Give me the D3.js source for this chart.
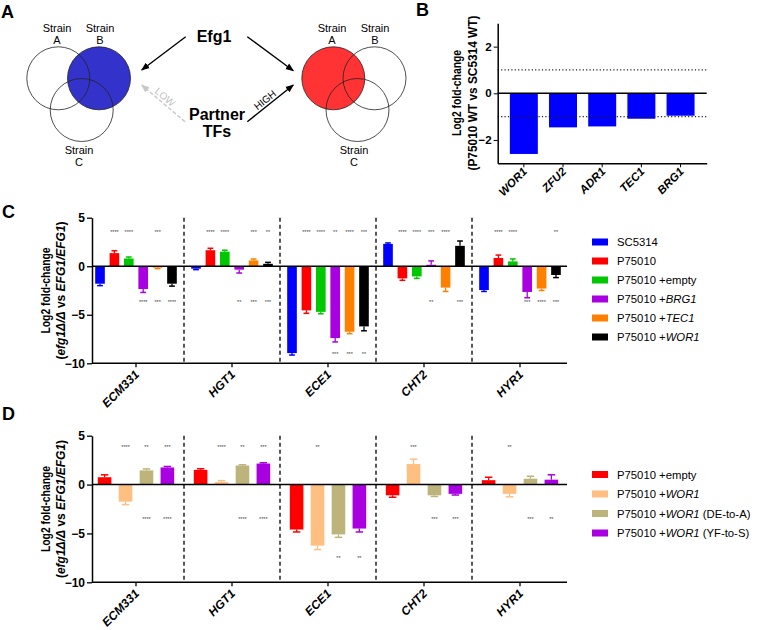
<!DOCTYPE html>
<html><head><meta charset="utf-8">
<script src="https://cdn.jsdelivr.net/npm/d3@7"></script>
<style>body{margin:0;background:#fff}svg{font-family:"Liberation Sans",Arial,sans-serif}</style>
</head><body><svg id="c" width="760" height="630"></svg>
<script>
// ---------- DATA ----------
const bGenes = ["WOR1", "ZFU2", "ADR1", "TEC1", "BRG1"];
const bValues = [-2.6, -1.46, -1.42, -1.09, -0.96];
const bTicks = [-2, 0, 2];

const genes = ["ECM331", "HGT1", "ECE1", "CHT2", "HYR1"];
const yTicksCD = [-10, -5, 0, 5];

const cSeries = ["SC5314", "P75010", "P75010 +empty", "P75010 +BRG1", "P75010 +TEC1", "P75010 +WOR1"];
const cLegend = [["SC5314", "", ""], ["P75010", "", ""], ["P75010 +empty", "", ""], ["P75010 +", "BRG1", ""], ["P75010 +", "TEC1", ""], ["P75010 +", "WOR1", ""]];
const cColors = ["#0000ff", "#ff0000", "#00c800", "#a800e0", "#ff8000", "#000000"];
// means per series, in gene order
const cMeans = [
  [-1.8, -0.25, -8.95, 2.3, -2.45],
  [1.35, 1.65, -4.55, -1.25, 0.85],
  [0.8, 1.5, -4.7, -1.05, 0.5],
  [-2.35, -0.35, -7.4, 0.15, -2.65],
  [-0.15, 0.6, -6.75, -2.2, -2.3],
  [-1.8, 0.25, -6.2, 2.1, -0.9]
];
const cErrors = [
  [0.2, 0.1, 0.2, 0.1, 0.15],
  [0.25, 0.2, 0.3, 0.2, 0.3],
  [0.15, 0.15, 0.2, 0.2, 0.25],
  [0.35, 0.35, 0.4, 0.4, 0.6],
  [0.1, 0.15, 0.2, 0.4, 0.2],
  [0.25, 0.15, 0.45, 0.5, 0.27]
];
// significance marks: [gene index, series index, mark, row level]
const cStars = [
  [0,1,"****",3.6],[0,2,"****",3.6],[0,4,"***",3.6],
  [0,3,"****",-3.6],[0,4,"***",-3.6],[0,5,"****",-3.6],
  [1,1,"****",3.6],[1,2,"****",3.6],[1,4,"***",3.6],[1,5,"**",3.6],
  [1,3,"**",-3.6],[1,4,"***",-3.6],[1,5,"***",-3.6],
  [2,1,"****",3.6],[2,2,"****",3.6],[2,3,"**",3.6],[2,4,"****",3.6],[2,5,"***",3.6],
  [2,3,"***",-8.9],[2,4,"***",-8.9],[2,5,"**",-8.9],
  [3,1,"****",3.6],[3,2,"****",3.6],[3,3,"***",3.6],[3,4,"****",3.6],
  [3,3,"**",-3.6],[3,5,"***",-3.6],
  [4,1,"****",3.6],[4,2,"****",3.6],[4,5,"**",3.6],
  [4,3,"***",-3.6],[4,4,"****",-3.6],[4,5,"***",-3.6]
];

const dSeries = ["P75010 +empty", "P75010 +WOR1", "P75010 +WOR1 (DE-to-A)", "P75010 +WOR1 (YF-to-S)"];
const dLegend = [["P75010 +empty", "", ""], ["P75010 +", "WOR1", ""], ["P75010 +", "WOR1", " (DE-to-A)"], ["P75010 +", "WOR1", " (YF-to-S)"]];
const dColors = ["#ff0000", "#ffbf80", "#bdb47b", "#a800e0"];
const dMeans = [
  [0.75, 1.5, -4.6, -1.1, 0.45],
  [-1.75, 0.25, -6.25, 2.1, -0.95],
  [1.45, 1.95, -5.1, -1.1, 0.6],
  [1.75, 2.15, -4.5, -0.95, 0.5]
];
const dErrors = [
  [0.25, 0.12, 0.25, 0.2, 0.3],
  [0.3, 0.15, 0.4, 0.5, 0.3],
  [0.15, 0.08, 0.3, 0.12, 0.25],
  [0.1, 0.08, 0.35, 0.12, 0.5]
];
const dStars = [
  [0,1,"****",4.0],[0,2,"**",4.0],[0,3,"***",4.0],
  [0,2,"****",-3.35],[0,3,"****",-3.35],
  [1,1,"****",4.0],[1,2,"**",4.0],[1,3,"***",4.0],
  [1,2,"****",-3.35],[1,3,"****",-3.35],
  [2,1,"**",4.0],
  [2,2,"**",-7.4],[2,3,"**",-7.4],
  [3,1,"***",4.0],
  [3,2,"***",-3.35],[3,3,"***",-3.35],
  [4,1,"**",4.0],
  [4,2,"***",-3.35],[4,3,"**",-3.35]
];

// ---------- DRAW ----------
const svg = d3.select("#c");

// panel letters
[["A", 1, 18], ["B", 416, 16], ["C", 2, 218], ["D", 2, 420]].forEach(([t, x, y]) =>
  svg.append("text").attr("x", x).attr("y", y).attr("font-size", 18).attr("font-weight", "bold").text(t));

// ---- Panel A (schematic) ----
const defs = svg.append("defs");
function marker(id, color) {
  defs.append("marker").attr("id", id).attr("viewBox", "0 0 10 10").attr("refX", 9).attr("refY", 5)
    .attr("markerWidth", 6).attr("markerHeight", 6).attr("orient", "auto")
    .append("path").attr("d", "M0,1 L10,5 L0,9 Z").attr("fill", color);
}
marker("arrB", "#000"); marker("arrG", "#c8c8c8");
const A = svg.append("g");
const circ = (cx, cy, fill) => A.append("circle").attr("cx", cx).attr("cy", cy).attr("r", 31.5)
  .attr("fill", fill).attr("stroke", "#222").attr("stroke-width", 0.8);
circ(99, 78.3, "#3333cc");
circ(58.3, 78.3, "none"); circ(81.7, 110, "none");
circ(333.3, 78.3, "#ff3333");
circ(374.5, 78.3, "none"); circ(357.5, 110, "none");
function strain(x, y, letter) {
  A.append("text").attr("x", x).attr("y", y).attr("text-anchor", "middle").attr("font-size", 11).text("Strain");
  A.append("text").attr("x", x).attr("y", y + 12).attr("text-anchor", "middle").attr("font-size", 11).text(letter);
}
strain(57, 31.5, "A"); strain(100, 31.5, "B"); strain(79, 153.5, "C");
strain(332, 31.5, "A"); strain(375, 31.5, "B"); strain(354, 153.5, "C");
A.append("text").attr("x", 214).attr("y", 42).attr("text-anchor", "middle").attr("font-size", 16).attr("font-weight", "bold").text("Efg1");
A.append("text").attr("x", 217).attr("y", 119.5).attr("text-anchor", "middle").attr("font-size", 16).attr("font-weight", "bold").text("Partner");
A.append("text").attr("x", 217).attr("y", 136.5).attr("text-anchor", "middle").attr("font-size", 16).attr("font-weight", "bold").text("TFs");
const arrow = (x1, y1, x2, y2, col, mk, dash) => A.append("line").attr("x1", x1).attr("y1", y1).attr("x2", x2).attr("y2", y2)
  .attr("stroke", col).attr("stroke-width", 1.4).attr("stroke-dasharray", dash).attr("marker-end", `url(#${mk})`);
arrow(185.7, 36.7, 141.7, 70, "#000", "arrB", null);
arrow(247.3, 36.7, 293.3, 70.7, "#000", "arrB", null);
arrow(185, 121.7, 141.7, 85, "#c8c8c8", "arrG", "4,2");
arrow(247.3, 121.7, 293.3, 85, "#000", "arrB", null);
A.append("text").attr("transform", "translate(165,97) rotate(40)").attr("text-anchor", "middle").attr("dy", "0.35em")
  .attr("font-size", 10).attr("fill", "#c0c0c0").text("LOW");
A.append("text").attr("transform", "translate(265,100) rotate(-38.6)").attr("text-anchor", "middle").attr("dy", "0.35em")
  .attr("font-size", 10).attr("fill", "#000").text("HIGH");

// ---- Panel B ----
const yB = d3.scaleLinear().domain([-3, 3]).range([163.3, 23.3]);
const xB = d3.scaleBand().domain(bGenes).range([497.7, 706.7]).paddingInner(0.286).paddingOuter(0.31);
const B = svg.append("g");
B.selectAll("rect").data(bGenes).join("rect")
  .attr("x", d => xB(d)).attr("width", xB.bandwidth())
  .attr("y", yB(0)).attr("height", (d, i) => yB(bValues[i]) - yB(0)).attr("fill", "#0000ff");
[-1, 1].forEach(v => B.append("line").attr("x1", xB.range()[0]).attr("x2", xB.range()[1])
  .attr("y1", yB(v)).attr("y2", yB(v)).attr("stroke", "#222").attr("stroke-width", 1.2).attr("stroke-dasharray", "1.2,2.2"));
B.append("line").attr("x1", xB.range()[0]).attr("x2", xB.range()[1]).attr("y1", yB(0)).attr("y2", yB(0)).attr("stroke", "#000").attr("stroke-width", 1.5);
const bYAxis = B.append("g").attr("transform", `translate(${xB.range()[0]},0)`)
  .call(d3.axisLeft(yB).tickValues(bTicks).tickSize(4).tickSizeOuter(0).tickPadding(2).tickFormat(d3.format("d")));
bYAxis.select(".domain").attr("stroke-width", 1.5);
bYAxis.selectAll("text").attr("font-size", 11.5).attr("font-weight", "bold").attr("font-family", null);
const bXAxis = B.append("g").attr("transform", `translate(0,${yB(-3)})`)
  .call(d3.axisBottom(xB).tickSize(4).tickSizeOuter(0));
bXAxis.select(".domain").attr("stroke-width", 1.5);
bXAxis.selectAll("text").attr("x", 0).attr("y", 0).attr("dy", 0).attr("transform", "translate(4,9) rotate(-45)")
  .style("text-anchor", "end").attr("font-size", 11.5).attr("font-weight", "bold").attr("font-style", "italic").attr("font-family", null);
const bTitle = B.append("g").attr("transform", "translate(0,93)");
bTitle.append("text").attr("transform", "translate(461,0) rotate(-90)").attr("text-anchor", "middle")
  .attr("font-size", 12).attr("font-weight", "bold").attr("textLength", 86).attr("lengthAdjust", "spacingAndGlyphs").text("Log2 fold-change");
bTitle.append("text").attr("transform", "translate(476.5,0) rotate(-90)").attr("text-anchor", "middle")
  .attr("font-size", 12).attr("font-weight", "bold").attr("textLength", 155).attr("lengthAdjust", "spacingAndGlyphs").text("(P75010  WT vs SC5314 WT)");

// ---- Panels C & D ----
function groupPanel(o) {
  const g = svg.append("g");
  const y = d3.scaleLinear().domain([-10, 5]).range([o.yBottom, o.yTop]);
  const x0 = d3.scaleBand().domain(genes).range([88, 568]).padding(0);
  const x1 = d3.scaleBand().domain(d3.range(o.series.length)).range([0, x0.bandwidth()])
    .paddingInner(o.pi).paddingOuter(o.po);
  const axisX = 92, axisEnd = 567;
  // separators
  genes.slice(1).forEach(gn => g.append("line").attr("x1", x0(gn)).attr("x2", x0(gn))
    .attr("y1", y(5)).attr("y2", y(-10)).attr("stroke", "#222").attr("stroke-width", 1.5).attr("stroke-dasharray", "4,3"));
  // bars
  o.series.forEach((s, si) => {
    genes.forEach((gn, gi) => {
      const v = o.means[si][gi], e = o.errors[si][gi];
      const bx = x0(gn) + x1(si), bw = x1.bandwidth();
      g.append("rect").attr("x", bx).attr("width", bw)
        .attr("y", Math.min(y(v), y(0))).attr("height", Math.abs(y(v) - y(0))).attr("fill", o.colors[si]);
      const ve = v + Math.sign(v) * e;
      const cx = bx + bw / 2, cw = bw * o.cap;
      g.append("line").attr("x1", cx).attr("x2", cx).attr("y1", y(v)).attr("y2", y(ve))
        .attr("stroke", o.colors[si]).attr("stroke-width", 1.3);
      g.append("line").attr("x1", cx - cw / 2).attr("x2", cx + cw / 2).attr("y1", y(ve)).attr("y2", y(ve))
        .attr("stroke", o.colors[si]).attr("stroke-width", 1.5);
    });
  });
  // zero line
  g.append("line").attr("x1", axisX).attr("x2", axisEnd).attr("y1", y(0)).attr("y2", y(0)).attr("stroke", "#000").attr("stroke-width", 1.5);
  // stars
  o.stars.forEach(([gi, si, t, lv]) => g.append("text")
    .attr("x", x0(genes[gi]) + x1(si) + x1.bandwidth() / 2).attr("y", y(lv) + 3.2)
    .attr("text-anchor", "middle").attr("font-size", 5.5).attr("fill", "#444").text(t));
  // axes
  const ya = g.append("g").attr("transform", `translate(${axisX},0)`)
    .call(d3.axisLeft(y).tickValues(yTicksCD).tickSize(5).tickSizeOuter(0).tickPadding(2).tickFormat(d3.format("d")));
  ya.select(".domain").attr("stroke-width", 1.5);
  ya.selectAll(".tick line").attr("stroke-width", 1.3);
  ya.selectAll("text").attr("font-size", 12).attr("font-weight", "bold").attr("font-family", null);
  const xa = g.append("g").attr("transform", `translate(0,${y(-10)})`)
    .call(d3.axisBottom(x0).tickSize(4).tickSizeOuter(0));
  xa.select(".domain").remove();
  xa.selectAll(".tick line").attr("stroke-width", 1.3);
  g.append("line").attr("x1", axisX).attr("x2", axisEnd).attr("y1", y(-10)).attr("y2", y(-10)).attr("stroke", "#000").attr("stroke-width", 1.5);
  xa.selectAll("text").attr("x", 0).attr("y", 0).attr("dy", 0).attr("transform", "translate(4,12) rotate(-45)")
    .style("text-anchor", "end").attr("font-size", 12).attr("font-weight", "bold").attr("font-style", "italic").attr("font-family", null);
  // y title
  const cy = (o.yTop + o.yBottom) / 2;
  g.append("text").attr("transform", `translate(50,${cy}) rotate(-90)`).attr("text-anchor", "middle")
    .attr("font-size", 12).attr("font-weight", "bold").attr("textLength", 86).attr("lengthAdjust", "spacingAndGlyphs").text("Log2 fold-change");
  const t2 = g.append("text").attr("transform", `translate(65,${cy}) rotate(-90)`).attr("text-anchor", "middle")
    .attr("font-size", 12).attr("font-weight", "bold");
  t2.append("tspan").text("(");
  t2.append("tspan").attr("font-style", "italic").text("efg1\u0394/\u0394");
  t2.append("tspan").text(" vs ");
  t2.append("tspan").attr("font-style", "italic").text("EFG1/EFG1");
  t2.append("tspan").text(")");
  // legend
  o.legend.forEach((parts, i) => {
    const ly = o.legY + i * o.legStep;
    g.append("rect").attr("x", 592).attr("y", ly - 3.5).attr("width", 16).attr("height", 7).attr("fill", o.colors[i]);
    const t = g.append("text").attr("x", 617).attr("y", ly + 4).attr("font-size", 11.3);
    t.append("tspan").text(parts[0]);
    if (parts[1]) t.append("tspan").attr("font-style", "italic").text(parts[1]);
    if (parts[2]) t.append("tspan").text(parts[2]);
  });
}

groupPanel({ yTop: 217.7, yBottom: 363.3, series: cSeries, means: cMeans, errors: cErrors, colors: cColors,
  stars: cStars, legend: cLegend, pi: 0.33, po: 0.5, cap: 0.6, legY: 242, legStep: 19 });
groupPanel({ yTop: 435.7, yBottom: 582.3, series: dSeries, means: dMeans, errors: dErrors, colors: dColors,
  stars: dStars, legend: dLegend, pi: 0.35, po: 0.47, cap: 0.55, legY: 474.5, legStep: 19.5 });
</script></body></html>
